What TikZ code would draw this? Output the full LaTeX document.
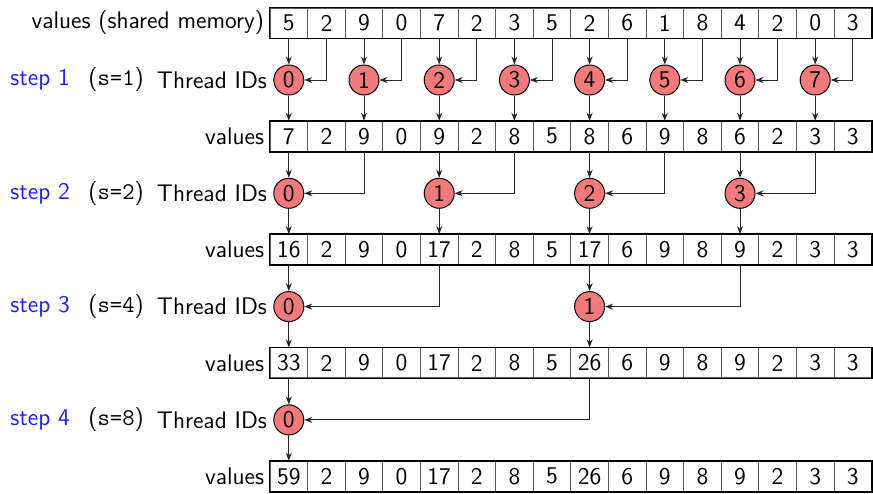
\documentclass[tikz,border=0pt]{standalone}
\usepackage{fontspec}
\usetikzlibrary{arrows.meta}
\definecolor{thr}{RGB}{243,122,122}
\definecolor{stepblue}{RGB}{30,30,255}
\begin{document}
\begin{tikzpicture}[x=0.5pt,y=-0.5pt,
  txt/.style={font=\sffamily\fontsize{12}{14}\selectfont, inner sep=0pt},
  cell/.style={txt, draw=black!65, line width=0.5pt, minimum width=18.8pt, minimum height=15pt, anchor=center},
  frame/.style={draw=black, line width=0.9pt},
  thread/.style={txt, circle, draw=black, line width=0.5pt, fill=thr, minimum size=15pt},
  arr/.style={draw=black!85, line width=0.5pt, -{Stealth[length=4pt,width=3pt]}},
  steplab/.style={txt, text=stepblue, anchor=west},
  slab/.style={txt, anchor=west}
]
\useasboundingbox (0,0) rectangle (873,493);
% value rows
\foreach \k/\vals in {0/{5,2,9,0,7,2,3,5,2,6,1,8,4,2,0,3},
                      1/{7,2,9,0,9,2,8,5,8,6,9,8,6,2,3,3},
                      2/{16,2,9,0,17,2,8,5,17,6,9,8,9,2,3,3},
                      3/{33,2,9,0,17,2,8,5,26,6,9,8,9,2,3,3},
                      4/{59,2,9,0,17,2,8,5,26,6,9,8,9,2,3,3}} {
  \pgfmathsetmacro{\yy}{23+113.3*\k}
  \foreach \v [count=\c from 0] in \vals {
    \node[cell] (r\k-\c) at ({270+37.6*(\c+0.5)},\yy) {\v};
  }
  \draw[frame] (r\k-0.north west) rectangle (r\k-15.south east);
}
\node[txt, anchor=east] (lab0) at ([xshift=-2.5pt]r0-0.west) {values (shared memory)};
\foreach \k in {1,2,3,4} {
  \node[txt, anchor=east] (lab\k) at ([xshift=-2.5pt]r\k-0.west) {values};
}
% threads
\foreach \k/\s/\lst in {1/1/{0,2,4,6,8,10,12,14}, 2/2/{0,4,8,12}, 3/4/{0,8}, 4/8/{0}} {
  \pgfmathtruncatemacro{\pk}{\k-1}
  \pgfmathsetmacro{\ty}{80+113.3*(\k-1)}
  \foreach \i [count=\n from 0] in \lst {
    \pgfmathtruncatemacro{\j}{\i+\s}
    \node[thread] (t\k-\i) at ({270+37.6*(\i+0.5)},\ty) {\n};
    \draw[arr] (r\pk-\i.south) -- (t\k-\i.north);
    \draw[arr] (r\pk-\j.south) |- (t\k-\i.east);
    \draw[arr] (t\k-\i.south) -- (r\k-\i.north);
  }
  \node[txt, anchor=east] (tid\k) at ([xshift=-3pt]t\k-0.west) {Thread IDs};
  \node[steplab] (st\k) at (10,\ty) {step \k};
  \node[slab] (sv\k) at (88,\ty) {(\texttt{s=\s})};
}
\end{tikzpicture}
\end{document}
